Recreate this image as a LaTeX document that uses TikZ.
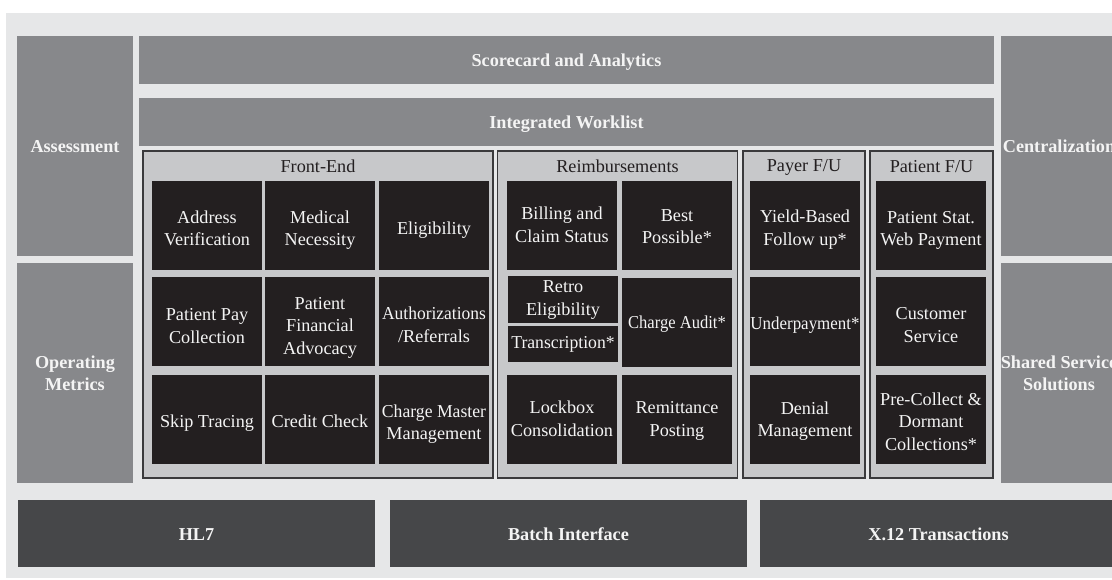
\documentclass[tikz,border=0pt]{standalone}
\usepackage{fontspec}
\setmainfont{Liberation Serif}
\definecolor{bgc}{HTML}{E6E7E8}
\definecolor{midc}{HTML}{87888B}
\definecolor{grpc}{HTML}{C7C8CA}
\definecolor{blkc}{HTML}{231F20}
\definecolor{barc}{HTML}{464749}
\definecolor{edgec}{HTML}{3A3A3C}
\definecolor{txtw}{HTML}{F4F4F4}
\tikzset{
  base/.style={inner sep=0pt, outer sep=0pt, align=center, font=\fontsize{18.2}{22.5}\selectfont},
  boldtxt/.style={base, text=txtw, font=\fontsize{18.2}{22.5}\selectfont\bfseries, text height=13.4pt, text depth=0pt},
  side/.style={boldtxt, fill=midc, minimum width=116pt, minimum height=220pt},
  band/.style={boldtxt, fill=midc, minimum width=855pt, minimum height=48pt},
  grp/.style={base, fill=grpc, draw=edgec, line width=1.2pt, minimum height=327pt},
  grptitle/.style={base, text=blkc, anchor=base},
  cell/.style={base, fill=blkc, text=txtw, minimum width=110pt, minimum height=89pt, text height=15pt, text depth=0pt},
  bar/.style={boldtxt, fill=barc, minimum width=357pt, minimum height=67pt},
}
\newcommand{\cond}[2][0.91]{\scalebox{#1}[1]{#2}}
\begin{document}
\begin{tikzpicture}[x=1pt,y=-1pt]
\useasboundingbox (0,0) rectangle (1112,579);
\clip (0,0) rectangle (1112,579);
\fill[bgc] (6,13) rectangle (1112,578);
% side columns
\node[side] (assess) at (75,146) {Assessment};
\node[side, text height=35.9pt] (opmet) at (75,373) {Operating\\Metrics};
\node[side] (central) at (1059,146) {Centralization};
\node[side, text height=35.9pt] (shared) at (1059,373) {Shared Service\\Solutions};
% bands
\node[band] (score) at (566.5,60) {Scorecard and Analytics};
\node[band] (work) at (566.5,122) {Integrated Worklist};
% groups
\node[grp, minimum width=350pt] (fe) at (318,314.5) {};
\node[grp, minimum width=240pt] (reimb) at (617.5,314.5) {};
\node[grp, minimum width=122pt] (payer) at (804,314.5) {};
\node[grp, minimum width=123pt] (patient) at (931.5,314.5) {};
\node[grptitle] (fet) at (318,172.5) {Front-End};
\node[grptitle] (reimbt) at (617.5,172.5) {Reimbursements};
\node[grptitle] (payert) at (804,171.5) {Payer F/U};
\node[grptitle] (patientt) at (931.5,172) {Patient F/U};
% Front-End cells
\node[cell, text height=40.5pt] (addr) at (207,225.5) {Address\\Verification};
\node[cell, text height=40.5pt] (med) at (320,225.5) {Medical\\Necessity};
\node[cell, text height=18pt] (elig) at (434,225.5) {Eligibility};
\node[cell, text height=43.5pt] (ppc) at (207,321.5) {Patient Pay\\Collection};
\node[cell, text height=65pt] (pfa) at (320,321.5) {Patient\\Financial\\Advocacy};
\node[cell, text height=41.5pt] (auth) at (434,321.5) {\cond[0.96]{Authorizations}\\/Referrals};
\node[cell, text height=15.6pt] (skip) at (207,419.5) {Skip Tracing};
\node[cell, text height=15.6pt] (credit) at (320,419.5) {Credit Check};
\node[cell, text height=40.5pt] (cmm) at (434,419.5) {\cond[0.97]{Charge Master}\\Management};
% Reimbursements cells
\node[cell, text height=33.5pt] (bill) at (562,225.5) {Billing and\\Claim Status};
\node[cell, text height=36.5pt] (best) at (677,225.5) {Best\\Possible*};
\node[cell, minimum height=47pt, text height=31.9pt] (retro) at (563,299.5) {Retro\\Eligibility};
\node[cell, minimum height=36pt, text height=8.6pt] (trans) at (563,344) {\cond[0.97]{Transcription*}};
\node[cell, text height=11pt] (audit) at (677,322.5) {\cond{Charge Audit*}};
\node[cell, text height=33.5pt] (lock) at (562,419.5) {Lockbox\\Consolidation};
\node[cell, text height=33.5pt] (remit) at (677,419.5) {Remittance\\Posting};
% Payer cells
\node[cell, text height=39.9pt] (yield) at (805,225.5) {Yield-Based\\Follow up*};
\node[cell, text height=15pt] (under) at (805,321.5) {\cond[0.93]{Underpayment*}};
\node[cell, text height=34.5pt] (denial) at (805,419.5) {Denial\\Management};
% Patient cells
\node[cell, text height=40.1pt] (stat) at (931,225.5) {Patient Stat.\\Web Payment};
\node[cell, text height=41.9pt] (cust) at (931,321.5) {Customer\\Service};
\node[cell, text height=61.6pt] (pre) at (931,419.5) {Pre-Collect \&\\Dormant\\Collections*};
% bottom bars
\node[bar] (hl7) at (196.5,533.5) {HL7};
\node[bar] (batch) at (568.5,533.5) {Batch Interface};
\node[bar] (x12) at (938.5,533.5) {X.12 Transactions};
\end{tikzpicture}
\end{document}
